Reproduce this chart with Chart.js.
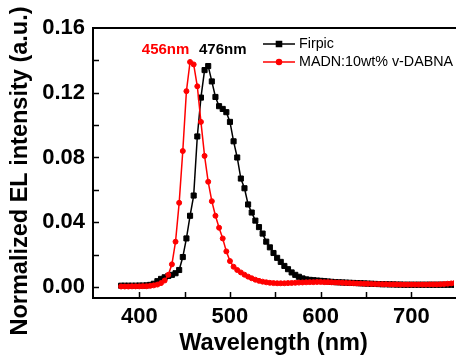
<!DOCTYPE html>
<html><head><meta charset="utf-8">
<script src="https://cdn.jsdelivr.net/npm/chart.js@4"></script>
<style>html,body{margin:0;padding:0;background:#fff}#wrap{width:459px;height:361px}</style>
</head><body><div id="wrap"><canvas id="c" width="459" height="361"></canvas></div>
<script>
const wavelengths = [380,384,388,392,396,400,404,408,412,416,420,424,428,432,436,440,444,448,452,456,460,464,468,472,476,480,484,488,492,496,500,504,508,512,516,520,524,528,532,536,540,544,548,552,556,560,564,568,572,576,580,584,588,592,596,600,604,608,612,616,620,624,628,632,636,640,644,648,652,656,660,664,668,672,676,680,684,688,692,696,700,704,708,712,716,720,724,728,732,736,740,744,748];
const firpic = [0.0008,0.0008,0.0008,0.0008,0.0008,0.0009,0.0009,0.0010,0.0013,0.0020,0.0036,0.0050,0.0060,0.0068,0.0075,0.0085,0.0105,0.0185,0.0300,0.0440,0.0565,0.0930,0.1170,0.1340,0.1365,0.1270,0.1174,0.1117,0.1100,0.1080,0.1020,0.0900,0.0800,0.0670,0.0610,0.0510,0.0460,0.0410,0.0370,0.0330,0.0280,0.0245,0.0210,0.0180,0.0155,0.0130,0.0110,0.0090,0.0075,0.0063,0.0053,0.0047,0.0044,0.0042,0.0040,0.0038,0.0036,0.0034,0.0032,0.0030,0.0029,0.0028,0.0027,0.0026,0.0025,0.0024,0.0023,0.0022,0.0021,0.0020,0.0019,0.0018,0.0017,0.0017,0.0016,0.0016,0.0015,0.0015,0.0014,0.0014,0.0014,0.0014,0.0014,0.0014,0.0014,0.0014,0.0014,0.0014,0.0014,0.0014,0.0014,0.0014,0.0014];
const madn = [0.0003,0.0003,0.0003,0.0004,0.0004,0.0004,0.0005,0.0005,0.0007,0.0010,0.0015,0.0024,0.0040,0.0075,0.0140,0.0280,0.0520,0.0840,0.1210,0.1390,0.1375,0.1240,0.1020,0.0810,0.0650,0.0530,0.0440,0.0366,0.0300,0.0220,0.0160,0.0125,0.0105,0.0090,0.0076,0.0064,0.0054,0.0045,0.0038,0.0033,0.0029,0.0026,0.0024,0.0023,0.0023,0.0023,0.0024,0.0025,0.0026,0.0027,0.0028,0.0029,0.0030,0.0030,0.0031,0.0031,0.0030,0.0030,0.0029,0.0028,0.0027,0.0026,0.0025,0.0024,0.0023,0.0022,0.0021,0.0020,0.0020,0.0019,0.0018,0.0018,0.0017,0.0017,0.0016,0.0016,0.0016,0.0015,0.0015,0.0015,0.0015,0.0015,0.0015,0.0015,0.0015,0.0016,0.0016,0.0016,0.0017,0.0018,0.0020,0.0022,0.0025];
const seriesNames = ['Firpic', 'MADN:10wt% v-DABNA'];
const peakLabels = ['456nm', '476nm'];
const xTicks = [400, 450, 500, 550, 600, 650, 700];
const xTickLabels = [400, 500, 600, 700];
const yTicks = [0, 0.02, 0.04, 0.06, 0.08, 0.10, 0.12, 0.14];
const xTitle = 'Wavelength (nm)';
const yTitle = 'Normalized EL intensity (a.u.)';

const FONT = '"Liberation Sans", Arial, sans-serif';

const extras = {
  id: 'extras',
  afterDatasetsDraw(chart) {
    const ctx = chart.ctx;
    const a = chart.chartArea;
    const xs = chart.scales.x, ys = chart.scales.y;
    ctx.save();
    // frame
    ctx.strokeStyle = '#000';
    ctx.lineWidth = 2;
    ctx.beginPath();
    ctx.moveTo(a.right + 2, a.top);
    ctx.lineTo(a.left, a.top);
    ctx.lineTo(a.left, a.bottom);
    ctx.lineTo(a.right + 2, a.bottom);
    ctx.stroke();
    // inward ticks
    ctx.lineWidth = 1.5;
    ctx.beginPath();
    xTicks.forEach(v => {
      const px = Math.round(xs.getPixelForValue(v)) + 0.5;
      ctx.moveTo(px, a.bottom); ctx.lineTo(px, a.bottom - 6);
    });
    yTicks.forEach(v => {
      const py = Math.round(ys.getPixelForValue(v)) + 0.5;
      ctx.moveTo(a.left, py); ctx.lineTo(a.left + 6, py);
    });
    ctx.stroke();
    // x tick labels
    ctx.fillStyle = '#000';
    ctx.font = 'bold 22px ' + FONT;
    ctx.textAlign = 'center';
    ctx.textBaseline = 'alphabetic';
    xTickLabels.forEach(v => {
      ctx.fillText(String(v), xs.getPixelForValue(v), a.bottom + 25);
    });
    // axis titles
    ctx.font = 'bold 23.5px ' + FONT;
    ctx.fillText(xTitle, (a.left + a.right) / 2, a.bottom + 52);
    ctx.save();
    ctx.translate(27, 171);
    ctx.rotate(-Math.PI / 2);
    ctx.fillText(yTitle, 0, 0);
    ctx.restore();
    // peak labels
    ctx.font = 'bold 15px ' + FONT;
    ctx.textAlign = 'center';
    ctx.textBaseline = 'middle';
    ctx.fillStyle = '#ff0000';
    ctx.fillText(peakLabels[0], xs.getPixelForValue(429), ys.getPixelForValue(0.1465));
    ctx.fillStyle = '#000';
    ctx.fillText(peakLabels[1], xs.getPixelForValue(492), ys.getPixelForValue(0.1465));
    // legend
    const rows = [44, 62];
    chart.data.datasets.forEach((ds, i) => {
      const y = rows[i];
      ctx.strokeStyle = ds.borderColor;
      ctx.lineWidth = 1.5;
      ctx.beginPath(); ctx.moveTo(263, y); ctx.lineTo(295, y); ctx.stroke();
      ctx.fillStyle = ds.borderColor;
      Chart.helpers.drawPoint(ctx, {pointStyle: ds.pointStyle, rotation: 0, radius: ds.pointRadius, borderWidth: 1}, 279, y);
      ctx.font = '14.3px ' + FONT;
      ctx.textAlign = 'left';
      ctx.fillStyle = '#000';
      ctx.fillText(ds.label, 299, y + 0.5);
    });
    ctx.restore();
  }
};

new Chart(document.getElementById('c'), {
  type: 'line',
  data: {
    datasets: [
      { label: seriesNames[0], data: wavelengths.map((w, i) => ({x: w, y: firpic[i]})),
        borderColor: '#000000', backgroundColor: '#000000', pointBackgroundColor: '#000000', pointBorderColor: '#000000',
        borderWidth: 1.5, pointStyle: 'rect', pointRadius: 3.6, pointBorderWidth: 1, tension: 0, order: 1 },
      { label: seriesNames[1], data: wavelengths.map((w, i) => ({x: w, y: madn[i]})),
        borderColor: '#ff0000', backgroundColor: '#ff0000', pointBackgroundColor: '#ff0000', pointBorderColor: '#ff0000',
        borderWidth: 1.5, pointStyle: 'circle', pointRadius: 2.5, pointBorderWidth: 1, tension: 0, order: 0 }
    ]
  },
  options: {
    responsive: false,
    devicePixelRatio: 1,
    animation: false,
    layout: { padding: { top: 28, right: 0, left: 0, bottom: 0 } },
    plugins: { legend: { display: false }, tooltip: { enabled: false } },
    scales: {
      x: {
        type: 'linear', min: 349, max: 747,
        grid: { display: false, drawTicks: false }, border: { display: false },
        ticks: { display: false },
        title: { display: false },
        afterFit: s => { s.height = 63; }
      },
      y: {
        type: 'linear', min: -0.0068, max: 0.16,
        grid: { display: false, drawTicks: false }, border: { display: false },
        ticks: {
          stepSize: 0.02, includeBounds: false, autoSkip: false, padding: 8,
          color: '#000', font: { family: FONT, size: 22, weight: 'bold' },
          callback: v => (Math.round(v * 100) % 4 === 0) ? v.toFixed(2) : ''
        },
        title: { display: false },
        afterFit: s => { s.width = 93; }
      }
    }
  },
  plugins: [extras]
});
</script>
</body></html>
